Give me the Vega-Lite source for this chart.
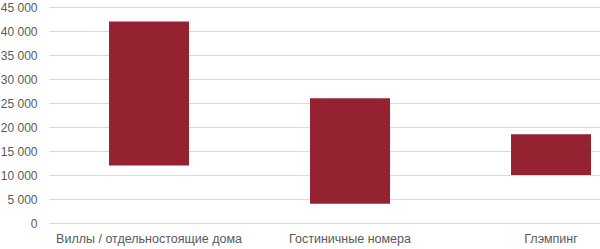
{
  "$schema": "https://vega.github.io/schema/vega-lite/v6.json",
  "autosize": "none",
  "padding": {"left": 49, "top": 7, "right": 0, "bottom": 26},
  "width": 551,
  "height": 216,
  "background": "white",
  "data": {"values": [
    {"category": "Виллы / отдельностоящие дома", "low": 12000, "high": 42000},
    {"category": "Гостиничные номера", "low": 4000, "high": 26000},
    {"category": "Глэмпинг", "low": 10000, "high": 18500}
  ]},
  "mark": {"type": "bar", "color": "#952230"},
  "encoding": {
    "x": {
      "field": "category", "type": "nominal", "sort": null, "title": null,
      "scale": {"paddingInner": 0.602, "paddingOuter": 0.1716, "align": 0.87},
      "axis": {"labelAngle": 0, "domain": false, "ticks": false, "labelPadding": 9, "labelFont": "Liberation Sans", "labelFontSize": 12.5, "labelColor": "#595959", "grid": false, "labelLimit": 0}
    },
    "y": {
      "field": "low", "type": "quantitative", "title": null,
      "scale": {"domain": [0, 45000], "nice": false},
      "axis": {"values": [0,5000,10000,15000,20000,25000,30000,35000,40000,45000], "labelExpr": "replace(format(datum.value, ','), ',', ' ')", "domain": false, "ticks": false, "labelPadding": 12, "labelFont": "Liberation Sans", "labelFontSize": 12, "labelColor": "#595959", "gridColor": "#d9d9d9", "gridWidth": 1}
    },
    "y2": {"field": "high"}
  },
  "config": {"view": {"stroke": null}}
}
